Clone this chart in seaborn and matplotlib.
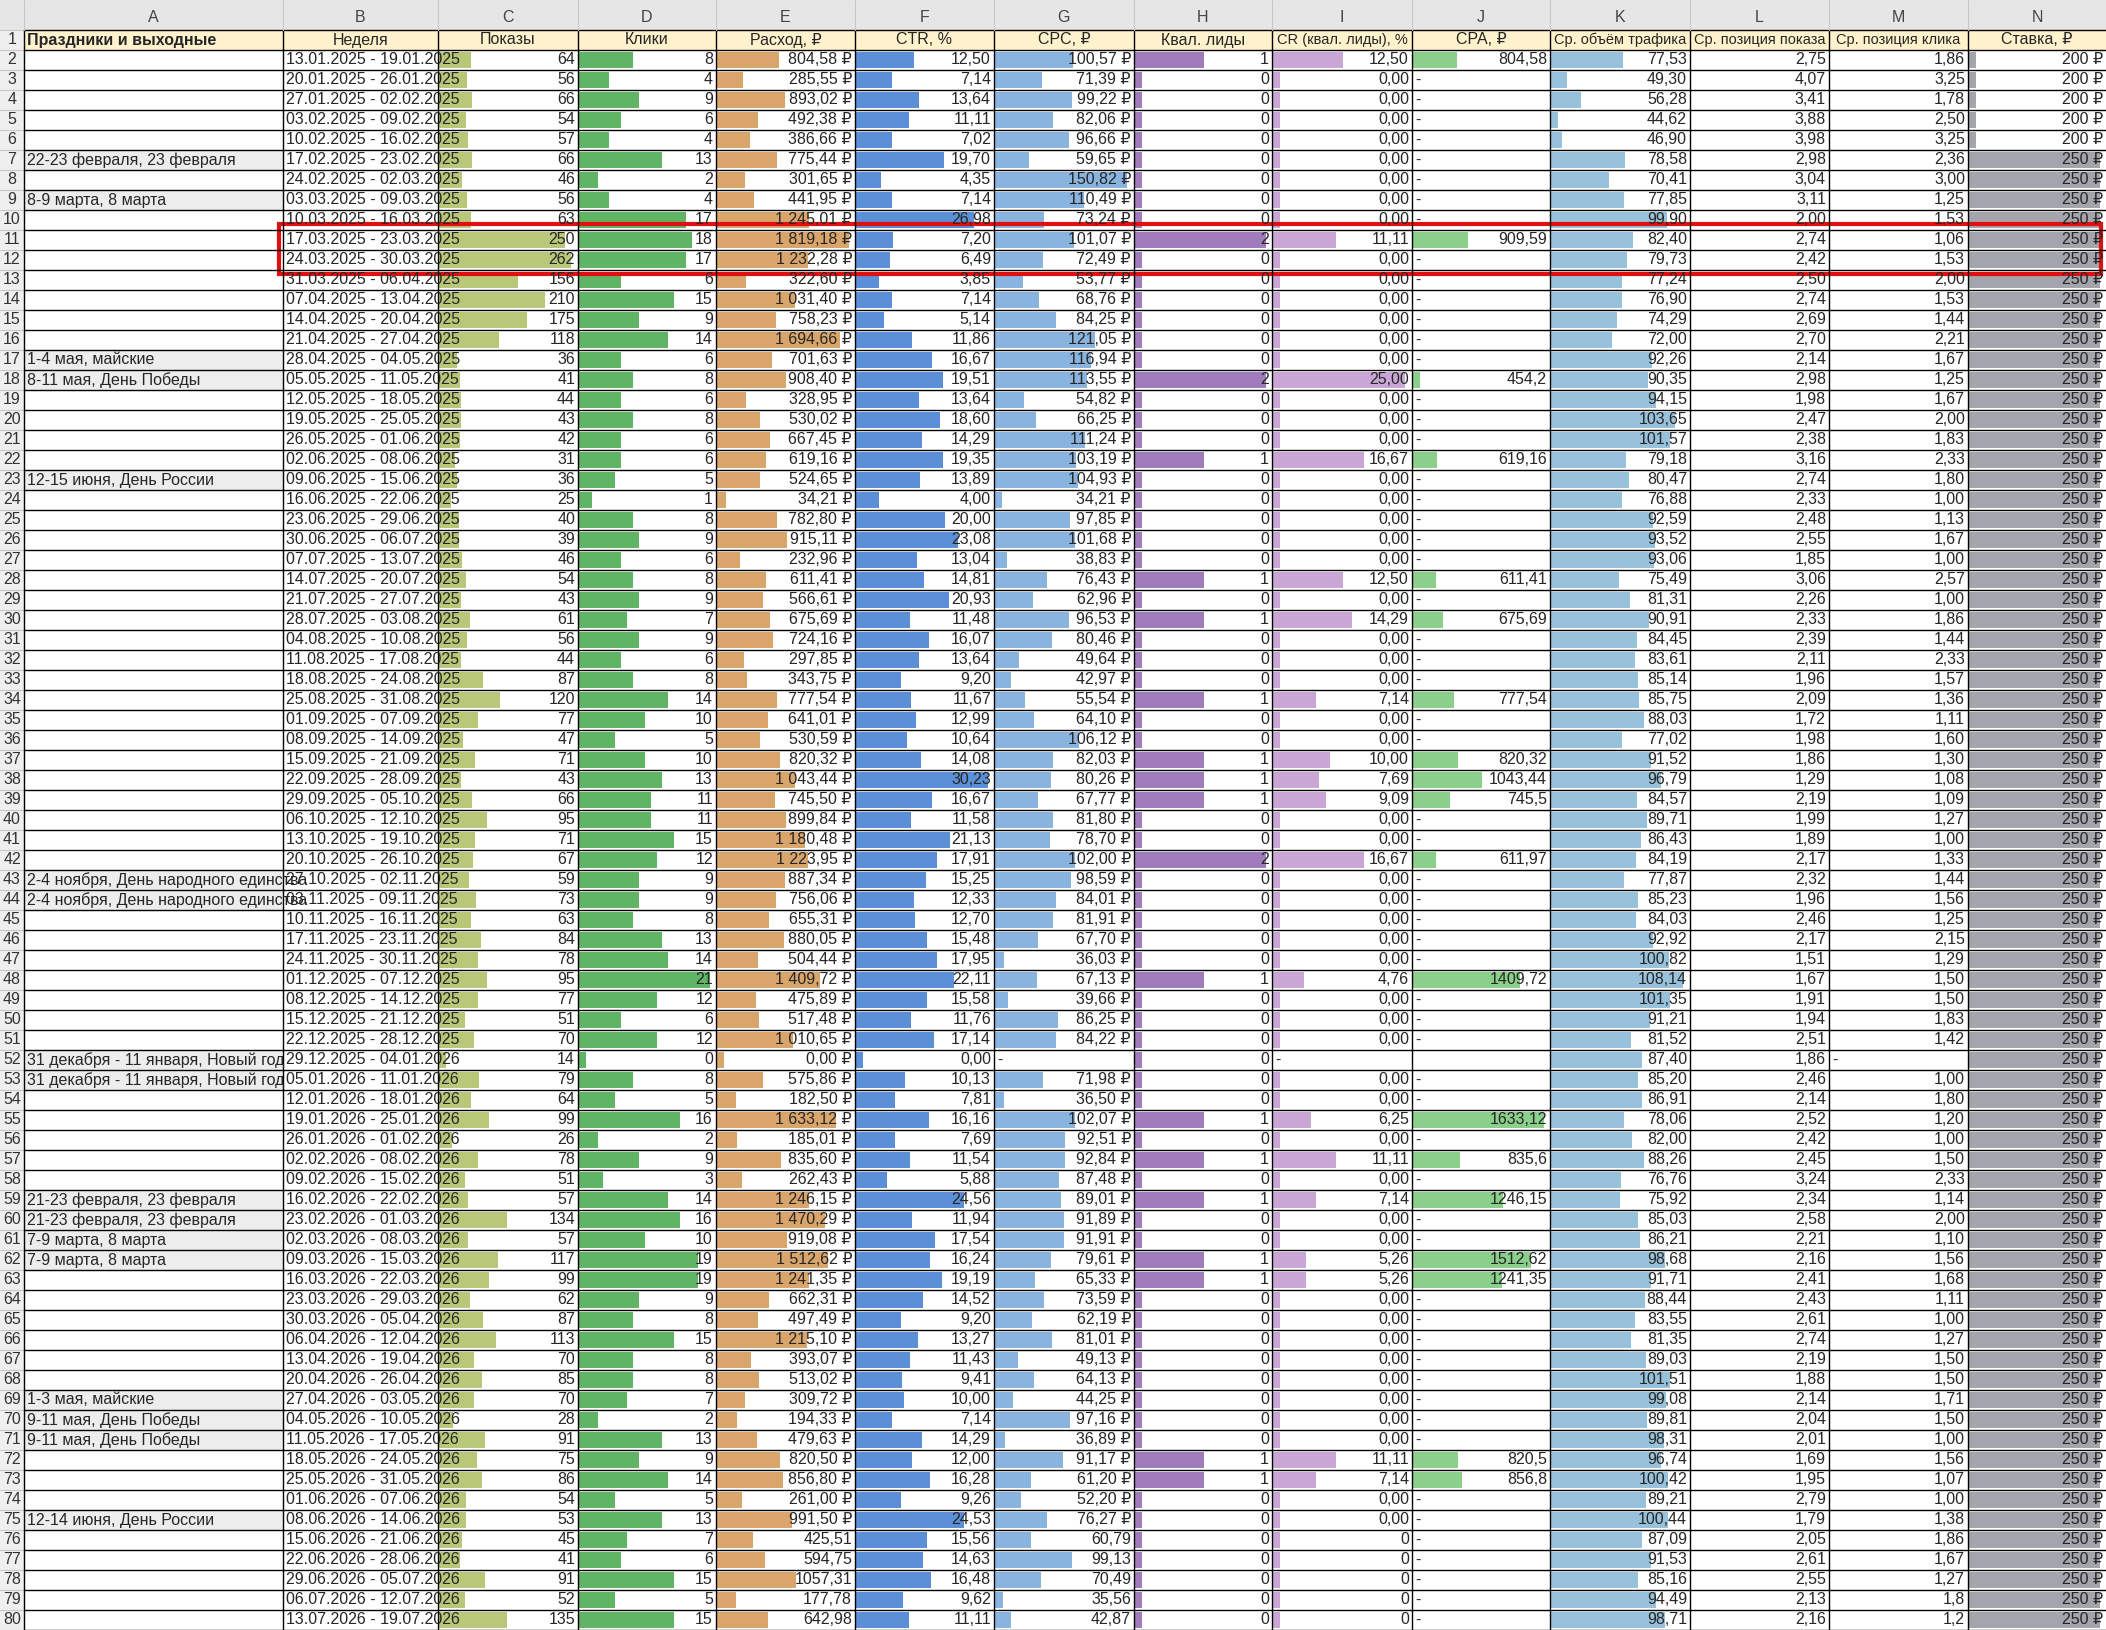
import numpy as np
import pandas as pd
import seaborn as sns
import matplotlib.pyplot as plt
from matplotlib.patches import Rectangle

sns.set_style("white")
plt.rcParams["font.family"] = ["Liberation Sans Narrow", "Liberation Sans", "DejaVu Sans"]

NA = np.nan
holidays = {7: "22-23 февраля, 23 февраля", 9: "8-9 марта, 8 марта", 17: "1-4 мая, майские",
            18: "8-11 мая, День Победы", 23: "12-15 июня, День России",
            43: "2-4 ноября, День народного единства", 44: "2-4 ноября, День народного единства",
            52: "31 декабря - 11 января, Новый год", 53: "31 декабря - 11 января, Новый год",
            59: "21-23 февраля, 23 февраля", 60: "21-23 февраля, 23 февраля",
            61: "7-9 марта, 8 марта", 62: "7-9 марта, 8 марта", 69: "1-3 мая, майские",
            70: "9-11 мая, День Победы", 71: "9-11 мая, День Победы", 75: "12-14 июня, День России"}

starts = pd.date_range("2025-01-13", periods=79, freq="7D")
weeks = [f"{d:%d.%m.%Y} - {(d + pd.Timedelta(days=6)):%d.%m.%Y}" for d in starts]

shows = [64, 56, 66, 54, 57, 66, 46, 56, 63, 250, 262, 156, 210, 175, 118, 36, 41, 44, 43, 42,
         31, 36, 25, 40, 39, 46, 54, 43, 61, 56, 44, 87, 120, 77, 47, 71, 43, 66, 95, 71,
         67, 59, 73, 63, 84, 78, 95, 77, 51, 70, 14, 79, 64, 99, 26, 78, 51, 57, 134, 57,
         117, 99, 62, 87, 113, 70, 85, 70, 28, 91, 75, 86, 54, 53, 45, 41, 91, 52, 135]
clicks = [8, 4, 9, 6, 4, 13, 2, 4, 17, 18, 17, 6, 15, 9, 14, 6, 8, 6, 8, 6,
          6, 5, 1, 8, 9, 6, 8, 9, 7, 9, 6, 8, 14, 10, 5, 10, 13, 11, 11, 15,
          12, 9, 9, 8, 13, 14, 21, 12, 6, 12, 0, 8, 5, 16, 2, 9, 3, 14, 16, 10,
          19, 19, 9, 8, 15, 8, 8, 7, 2, 13, 9, 14, 5, 13, 7, 6, 15, 5, 15]
spend = [804.58, 285.55, 893.02, 492.38, 386.66, 775.44, 301.65, 441.95, 1245.01, 1819.18,
         1232.28, 322.60, 1031.40, 758.23, 1694.66, 701.63, 908.40, 328.95, 530.02, 667.45,
         619.16, 524.65, 34.21, 782.80, 915.11, 232.96, 611.41, 566.61, 675.69, 724.16,
         297.85, 343.75, 777.54, 641.01, 530.59, 820.32, 1043.44, 745.50, 899.84, 1180.48,
         1223.95, 887.34, 756.06, 655.31, 880.05, 504.44, 1409.72, 475.89, 517.48, 1010.65,
         0.00, 575.86, 182.50, 1633.12, 185.01, 835.60, 262.43, 1246.15, 1470.29, 919.08,
         1512.62, 1241.35, 662.31, 497.49, 1215.10, 393.07, 513.02, 309.72, 194.33, 479.63,
         820.50, 856.80, 261.00, 991.50, 425.51, 594.75, 1057.31, 177.78, 642.98]
ctr = [12.50, 7.14, 13.64, 11.11, 7.02, 19.70, 4.35, 7.14, 26.98, 7.20, 6.49, 3.85, 7.14, 5.14,
       11.86, 16.67, 19.51, 13.64, 18.60, 14.29, 19.35, 13.89, 4.00, 20.00, 23.08, 13.04, 14.81,
       20.93, 11.48, 16.07, 13.64, 9.20, 11.67, 12.99, 10.64, 14.08, 30.23, 16.67, 11.58, 21.13,
       17.91, 15.25, 12.33, 12.70, 15.48, 17.95, 22.11, 15.58, 11.76, 17.14, 0.00, 10.13, 7.81,
       16.16, 7.69, 11.54, 5.88, 24.56, 11.94, 17.54, 16.24, 19.19, 14.52, 9.20, 13.27, 11.43,
       9.41, 10.00, 7.14, 14.29, 12.00, 16.28, 9.26, 24.53, 15.56, 14.63, 16.48, 9.62, 11.11]
cpc = [100.57, 71.39, 99.22, 82.06, 96.66, 59.65, 150.82, 110.49, 73.24, 101.07, 72.49, 53.77,
       68.76, 84.25, 121.05, 116.94, 113.55, 54.82, 66.25, 111.24, 103.19, 104.93, 34.21, 97.85,
       101.68, 38.83, 76.43, 62.96, 96.53, 80.46, 49.64, 42.97, 55.54, 64.10, 106.12, 82.03,
       80.26, 67.77, 81.80, 78.70, 102.00, 98.59, 84.01, 81.91, 67.70, 36.03, 67.13, 39.66,
       86.25, 84.22, NA, 71.98, 36.50, 102.07, 92.51, 92.84, 87.48, 89.01, 91.89, 91.91, 79.61,
       65.33, 73.59, 62.19, 81.01, 49.13, 64.13, 44.25, 97.16, 36.89, 91.17, 61.20, 52.20, 76.27,
       60.79, 99.13, 70.49, 35.56, 42.87]
leads = [1, 0, 0, 0, 0, 0, 0, 0, 0, 2, 0, 0, 0, 0, 0, 0, 2, 0, 0, 0, 1, 0, 0, 0, 0, 0, 1, 0, 1, 0,
         0, 0, 1, 0, 0, 1, 1, 1, 0, 0, 2, 0, 0, 0, 0, 0, 1, 0, 0, 0, 0, 0, 0, 1, 0, 1, 0, 1, 0, 0,
         1, 1, 0, 0, 0, 0, 0, 0, 0, 0, 1, 1, 0, 0, 0, 0, 0, 0, 0]
cr = [12.50, 0, 0, 0, 0, 0, 0, 0, 0, 11.11, 0, 0, 0, 0, 0, 0, 25.00, 0, 0, 0, 16.67, 0, 0, 0, 0,
      0, 12.50, 0, 14.29, 0, 0, 0, 7.14, 0, 0, 10.00, 7.69, 9.09, 0, 0, 16.67, 0, 0, 0, 0, 0,
      4.76, 0, 0, 0, NA, 0, 0, 6.25, 0, 11.11, 0, 7.14, 0, 0, 5.26, 5.26, 0, 0, 0, 0, 0, 0, 0, 0,
      11.11, 7.14, 0, 0, 0, 0, 0, 0, 0]
cpa = [804.58, NA, NA, NA, NA, NA, NA, NA, NA, 909.59, NA, NA, NA, NA, NA, NA, 454.2, NA, NA, NA,
       619.16, NA, NA, NA, NA, NA, 611.41, NA, 675.69, NA, NA, NA, 777.54, NA, NA, 820.32, 1043.44,
       745.5, NA, NA, 611.97, NA, NA, NA, NA, NA, 1409.72, NA, NA, NA, NA, NA, NA, 1633.12, NA,
       835.6, NA, 1246.15, NA, NA, 1512.62, 1241.35, NA, NA, NA, NA, NA, NA, NA, NA, 820.5, 856.8,
       NA, NA, NA, NA, NA, NA, NA]
traffic = [77.53, 49.30, 56.28, 44.62, 46.90, 78.58, 70.41, 77.85, 99.90, 82.40, 79.73, 77.24,
           76.90, 74.29, 72.00, 92.26, 90.35, 94.15, 103.65, 101.57, 79.18, 80.47, 76.88, 92.59,
           93.52, 93.06, 75.49, 81.31, 90.91, 84.45, 83.61, 85.14, 85.75, 88.03, 77.02, 91.52,
           96.79, 84.57, 89.71, 86.43, 84.19, 77.87, 85.23, 84.03, 92.92, 100.82, 108.14, 101.35,
           91.21, 81.52, 87.40, 85.20, 86.91, 78.06, 82.00, 88.26, 76.76, 75.92, 85.03, 86.21,
           98.68, 91.71, 88.44, 83.55, 81.35, 89.03, 101.51, 99.08, 89.81, 98.31, 96.74, 100.42,
           89.21, 100.44, 87.09, 91.53, 85.16, 94.49, 98.71]
pos_show = [2.75, 4.07, 3.41, 3.88, 3.98, 2.98, 3.04, 3.11, 2.00, 2.74, 2.42, 2.50, 2.74, 2.69,
            2.70, 2.14, 2.98, 1.98, 2.47, 2.38, 3.16, 2.74, 2.33, 2.48, 2.55, 1.85, 3.06, 2.26,
            2.33, 2.39, 2.11, 1.96, 2.09, 1.72, 1.98, 1.86, 1.29, 2.19, 1.99, 1.89, 2.17, 2.32,
            1.96, 2.46, 2.17, 1.51, 1.67, 1.91, 1.94, 2.51, 1.86, 2.46, 2.14, 2.52, 2.42, 2.45,
            3.24, 2.34, 2.58, 2.21, 2.16, 2.41, 2.43, 2.61, 2.74, 2.19, 1.88, 2.14, 2.04, 2.01,
            1.69, 1.95, 2.79, 1.79, 2.05, 2.61, 2.55, 2.13, 2.16]
pos_click = [1.86, 3.25, 1.78, 2.50, 3.25, 2.36, 3.00, 1.25, 1.53, 1.06, 1.53, 2.00, 1.53, 1.44,
             2.21, 1.67, 1.25, 1.67, 2.00, 1.83, 2.33, 1.80, 1.00, 1.13, 1.67, 1.00, 2.57, 1.00,
             1.86, 1.44, 2.33, 1.57, 1.36, 1.11, 1.60, 1.30, 1.08, 1.09, 1.27, 1.00, 1.33, 1.44,
             1.56, 1.25, 2.15, 1.29, 1.50, 1.50, 1.83, 1.42, NA, 1.00, 1.80, 1.20, 1.00, 1.50,
             2.33, 1.14, 2.00, 1.10, 1.56, 1.68, 1.11, 1.00, 1.27, 1.50, 1.50, 1.71, 1.50, 1.00,
             1.56, 1.07, 1.00, 1.38, 1.86, 1.67, 1.27, 1.8, 1.2]
bid = [200] * 5 + [250] * 74
raw_rows = [False] * 74 + [True] * 5   # last rows without currency format

headers = ["Праздники и выходные", "Неделя", "Показы", "Клики", "Расход, ₽", "CTR, %", "CPC, ₽",
           "Квал. лиды", "CR (квал. лиды), %", "CPA, ₽", "Ср. объём трафика",
           "Ср. позиция показа", "Ср. позиция клика", "Ставка, ₽"]
letters = list("ABCDEFGHIJKLMN")

W, H = 2106, 1630
edges = [0, 24, 283, 438, 578, 716, 855, 994, 1134, 1272, 1412, 1550, 1690, 1829, 1968, 2140]
top, rh = 30, 20.0
n = len(weeks)


def money(v, cur=True):
    s = f"{v:,.2f}".replace(",", " ").replace(".", ",")
    return s + (" ₽" if cur else "")


def num2(v):
    return f"{v:.2f}".replace(".", ",")


def gen(v):
    return f"{v:g}".replace(".", ",")


fig = plt.figure(figsize=(W / 100, H / 100), dpi=100)
ax = fig.add_axes([0, 0, 1, 1])
ax.set_xlim(0, W)
ax.set_ylim(H, 0)
ax.axis("off")
ax.set_zorder(5)
ax.patch.set_alpha(0)

# background fills under bars
bg = fig.add_axes([0, 0, 1, 1], zorder=0)
bg.set_xlim(0, W)
bg.set_ylim(H, 0)
bg.axis("off")
bg.add_patch(Rectangle((0, 0), W, top, color="#e6e6e6"))
bg.add_patch(Rectangle((0, top), edges[1], H, color="#efefef"))
bg.add_patch(Rectangle((edges[1], top), W, rh, color="#fff2cc"))
for r in holidays:
    bg.add_patch(Rectangle((edges[1], top + (r - 1) * rh), edges[2] - edges[1], rh, color="#ededed"))

# data bars (column index: 0 = A)
bar_cols = {2: (shows, "#b8c878"), 3: (clicks, "#5fb564"), 4: (spend, "#d9a56b"),
            5: (ctr, "#5b8fd8"), 6: (cpc, "#8ab4e0"), 7: (leads, "#a07cbc"),
            8: (cr, "#c9a6d6"), 9: (cpa, "#8ad08a"), 10: (traffic, "#98c2dc"), 13: (bid, "#a3a4ac")}
for ci, (vals, colr) in bar_cols.items():
    v = np.array(vals, dtype=float)
    lo, hi = np.nanmin(v), np.nanmax(v)
    rng = hi - lo if hi > lo else 1.0
    base = lo - 0.055 * rng
    length = np.where(np.isnan(v), 0, v - base)
    xl = edges[ci + 1] + 1
    xr = min(edges[ci + 2], W) - 1
    iax = fig.add_axes([xl / W, 0, (xr - xl) / W, (H - top - rh) / H], zorder=1)
    sns.barplot(x=length, y=np.arange(n), orient="h", color=colr, saturation=1,
                width=0.8, linewidth=0, ax=iax)
    iax.set_xlim(0, (hi - base) / 0.96)
    iax.set_ylim(n - 0.5, -0.5)
    iax.axis("off")

fs = 11.5
# column letters and headers
for i in range(14):
    xl, xr = edges[i + 1], min(edges[i + 2], W)
    ax.text((xl + xr) / 2, top / 2 + 2, letters[i], ha="center", va="center",
            fontsize=fs, color="#444444")
    if i == 0:
        ax.text(xl + 3, top + rh / 2, headers[i], ha="left", va="center", fontsize=fs,
                fontweight="bold")
    else:
        ax.text((xl + xr) / 2, top + rh / 2, headers[i], ha="center", va="center",
                fontsize=10.5 if len(headers[i]) > 15 else fs)
for r in range(1, n + 2):
    ax.text(edges[1] / 2, top + (r - 0.5) * rh, str(r), ha="center", va="center", fontsize=fs,
            color="#333333")

for k in range(n):
    r = k + 2
    y = top + (r - 0.5) * rh
    raw = raw_rows[k]

    def right(ci, s):
        ax.text(min(edges[ci + 2], W) - 3, y, s, ha="right", va="center", fontsize=fs)

    def left(ci, s):
        ax.text(edges[ci + 1] + 3, y, s, ha="left", va="center", fontsize=fs)

    if r in holidays:
        left(0, holidays[r])
    left(1, weeks[k])
    right(2, str(shows[k]))
    right(3, str(clicks[k]))
    right(4, gen(spend[k]) if raw else money(spend[k]))
    right(5, num2(ctr[k]))
    if np.isnan(cpc[k]):
        left(6, "-")
    else:
        right(6, num2(cpc[k]) + ("" if raw else " ₽"))
    right(7, str(leads[k]))
    if np.isnan(cr[k]):
        left(8, "-")
    else:
        right(8, "0" if raw else num2(cr[k]))
    if not np.isnan(cpa[k]):
        right(9, gen(cpa[k]))
    elif not np.isnan(cr[k]):
        left(9, "-")
    right(10, num2(traffic[k]))
    right(11, num2(pos_show[k]))
    if np.isnan(pos_click[k]):
        left(12, "-")
    else:
        right(12, gen(pos_click[k]) if raw else num2(pos_click[k]))
    right(13, f"{bid[k]} ₽")

# grid lines
for r in range(0, n + 2):
    yy = top + r * rh
    ax.plot([edges[1], W], [yy, yy], color="black", lw=1)
    ax.plot([0, edges[1]], [yy, yy], color="#c8c8c8", lw=0.8)
for e in edges[1:-1]:
    ax.plot([e, e], [top, H], color="black", lw=1)
    ax.plot([e, e], [0, top], color="#c8c8c8", lw=0.8)

# highlight
ax.add_patch(Rectangle((279, top + 9.7 * rh), 2101 - 279, 2.3 * rh + 4, fill=False,
                       edgecolor="#e01010", lw=3))

fig.savefig("out.png", dpi=100)
